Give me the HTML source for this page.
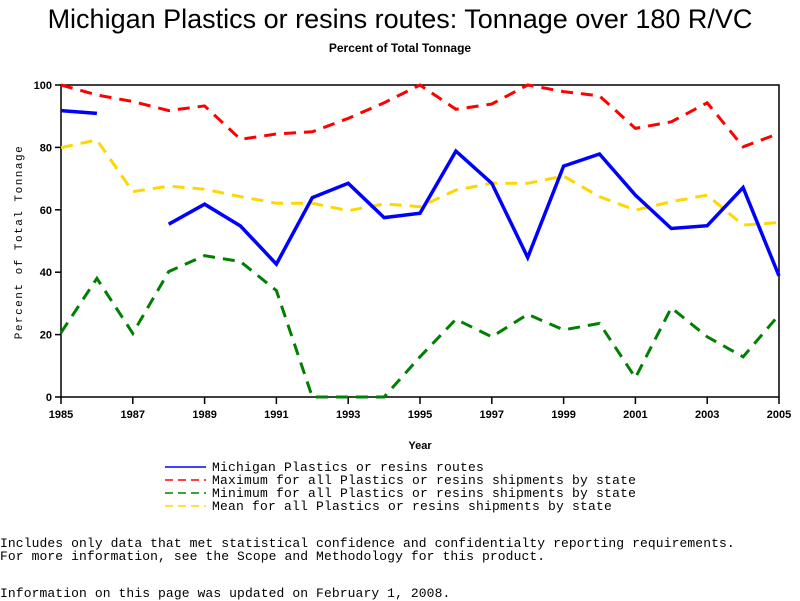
<!DOCTYPE html>
<html><head><meta charset="utf-8">
<style>
body{margin:0;background:#fff;width:800px;height:600px;overflow:hidden;position:relative;font-family:"Liberation Sans",sans-serif}
.t{position:absolute;white-space:nowrap}
.mono{font-family:"Liberation Mono",monospace;font-size:13px}
</style></head><body>
<div class="t" style="left:0;width:800px;text-align:center;top:4px;font-size:27px;">Michigan Plastics or resins routes: Tonnage over 180 R/VC</div>
<div class="t" style="left:0;width:800px;text-align:center;top:41px;font-size:12px;font-weight:bold">Percent of Total Tonnage</div>
<svg id="chart" width="800" height="600" style="position:absolute;left:0;top:0"></svg>
<div class="t mono" style="left:212px;top:460px;letter-spacing:0.2px">Michigan Plastics or resins routes</div>
<div class="t mono" style="left:212px;top:473px;letter-spacing:0.2px">Maximum for all Plastics or resins shipments by state</div>
<div class="t mono" style="left:212px;top:486px;letter-spacing:0.2px">Minimum for all Plastics or resins shipments by state</div>
<div class="t mono" style="left:212px;top:499px;letter-spacing:0.2px">Mean for all Plastics or resins shipments by state</div>
<div class="t mono" style="left:0;top:536px;letter-spacing:0.1px">Includes only data that met statistical confidence and confidentialty reporting requirements.</div>
<div class="t mono" style="left:0;top:549px;letter-spacing:0.1px">For more information, see the Scope and Methodology for this product.</div>
<div class="t mono" style="left:0;top:586px;letter-spacing:0.1px">Information on this page was updated on February 1, 2008.</div>
<script>
const years=[1985,1986,1987,1988,1989,1990,1991,1992,1993,1994,1995,1996,1997,1998,1999,2000,2001,2002,2003,2004,2005];
const michigan=[91.8,90.9,null,55.4,61.8,54.8,42.6,63.9,68.5,57.5,58.9,78.8,68.5,44.7,74.0,77.9,64.7,54.0,54.9,67.1,38.8];
const maximum=[100,96.8,94.7,91.8,93.3,82.6,84.3,85.0,89.3,94.3,100,92.2,93.9,100,97.9,96.5,86.1,88.2,94.3,80.2,84.5];
const minimum=[20.6,38.0,20.4,40.2,45.3,43.4,34.1,0,0,0,12.9,24.9,19.3,26.5,21.5,23.6,6.2,28.6,19.3,12.9,26.3];
const mean=[79.9,82.4,65.8,67.6,66.6,64.2,62.1,62.1,59.7,61.9,61.0,66.3,68.5,68.5,70.8,64.2,59.9,62.6,64.7,55.1,55.9];
const yTicks=[0,20,40,60,80,100];
const xTickLabels=[1985,1987,1989,1991,1993,1995,1997,1999,2001,2003,2005];
const L=61,R=779,T=85,B=397;
const xs=y=>L+(y-1985)*(R-L)/20;
const ys=v=>B-v*(B-T)/100;
const svg=document.getElementById('chart');
const NS='http://www.w3.org/2000/svg';
function mk(tag,attrs){const e=document.createElementNS(NS,tag);for(const k in attrs)e.setAttribute(k,attrs[k]);svg.appendChild(e);return e;}
const frame=mk('rect',{x:L,y:T,width:R-L,height:B-T,fill:'none',stroke:'#000','stroke-width':1.5});


yTicks.forEach(v=>{
  const tk=mk('line',{x1:L-6,x2:L,y1:ys(v),y2:ys(v),stroke:'#000','stroke-width':1.5});
  
  
  const tx=mk('text',{x:L-9,y:ys(v)+4,'text-anchor':'end','font-size':11,'font-weight':'bold','font-family':'Liberation Sans,sans-serif'});
  tx.textContent=v;
  
  
});
xTickLabels.forEach(y=>{
  const tk=mk('line',{x1:xs(y),x2:xs(y),y1:B,y2:B+7,stroke:'#000','stroke-width':1.5});
  
  
  const tx=mk('text',{x:xs(y),y:B+21,'text-anchor':'middle','font-size':11,'font-weight':'bold','font-family':'Liberation Sans,sans-serif'});
  tx.textContent=y;
  
  
});
const xt=mk('text',{x:420,y:449,'text-anchor':'middle','font-size':11,'font-weight':'bold','font-family':'Liberation Sans,sans-serif'});
xt.textContent='Year';


const yt=mk('text',{x:0,y:0,'text-anchor':'middle','font-size':11,'font-family':'Liberation Mono,monospace','letter-spacing':'1.5',transform:'translate(22,242) rotate(-90)'});
yt.textContent='Percent of Total Tonnage';


function series(vals,color,w,dash,name){
  let d='',pen=false;
  vals.forEach((v,i)=>{if(v===null){pen=false;return;}d+=(pen?'L':'M')+xs(years[i]).toFixed(1)+','+ys(v).toFixed(1);pen=true;});
  const p=mk('path',{d:d,fill:'none',stroke:color,'stroke-width':w,'stroke-dasharray':dash||'none','stroke-linejoin':'miter'});
  
  
}
series(maximum,'#ff0000',3,'12,8','line-maximum');
series(minimum,'#008000',3,'12,8','line-minimum');
series(mean,'#ffd700',3,'12,8','line-mean');
series(michigan,'#0000ff',3.5,null,'line-michigan');
function leg(y,color,dash,name){
  const l=mk('line',{x1:165,x2:206,y1:y,y2:y,stroke:color,'stroke-width':1.5,'stroke-dasharray':dash||'none'});
  
  
}
leg(467,'#0000ff',null,'legend-swatch-michigan');
leg(480,'#ff0000','8,5','legend-swatch-maximum');
leg(493,'#008000','8,5','legend-swatch-minimum');
leg(506,'#ffd700','8,5','legend-swatch-mean');
</script>
</body></html>
